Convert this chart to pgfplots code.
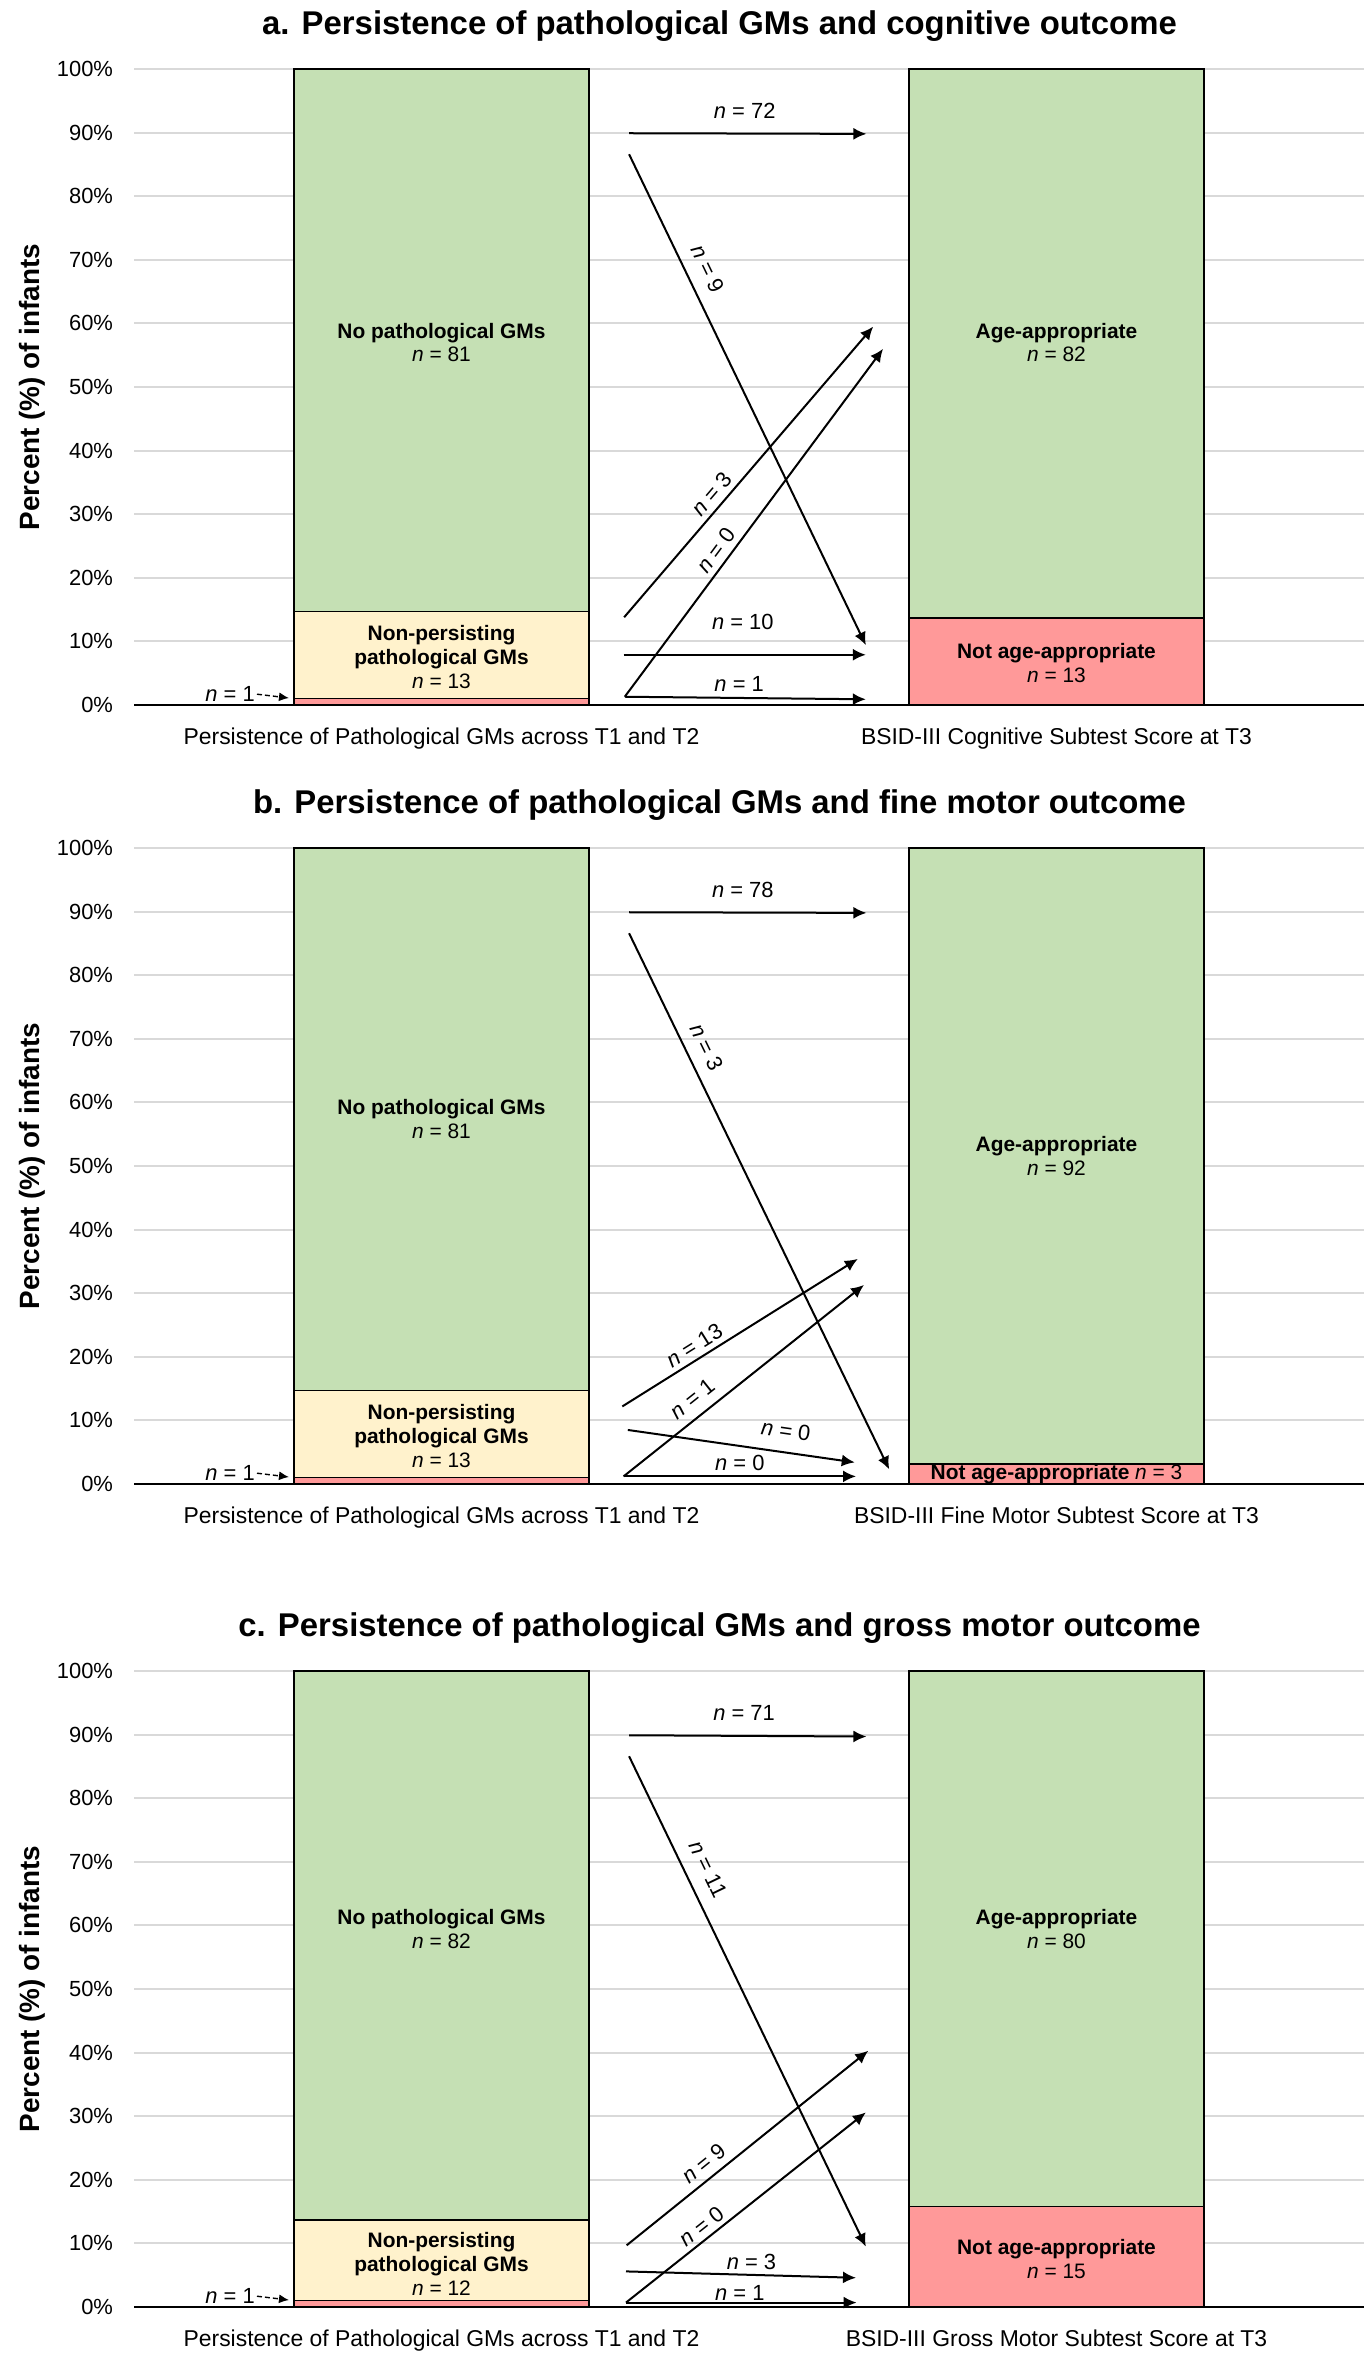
\documentclass[border=0pt]{standalone}
\usepackage{fontspec}
\setmainfont{Liberation Sans}
\usepackage{pgfplots}
\pgfplotsset{compat=1.18}
\usetikzlibrary{arrows.meta}
\definecolor{cgreen}{HTML}{C5E0B4}
\definecolor{cyellow}{HTML}{FFF2CC}
\definecolor{cred}{HTML}{FF9999}
\definecolor{cgrid}{HTML}{D9D9D9}
\pgfplotsset{
  panel/.style={
    scale only axis, width=615bp, height=318bp,
    xmin=0.5, xmax=2.5, ymin=0, ymax=100,
    axis x line=bottom, axis y line=left,
    x axis line style={-, line width=1.2bp, black},
    y axis line style={draw=none},
    ytick={0,10,...,100},
    yticklabels={0\%,10\%,20\%,30\%,40\%,50\%,60\%,70\%,80\%,90\%,100\%},
    xtick={1,2},
    major tick length=0pt,
    ymajorgrids, grid style={cgrid, line width=1bp},
    tick label style={font=\fontsize{11}{13}\selectfont},
    xticklabel style={yshift=-8bp, font=\fontsize{11.5}{13}\selectfont},
    yticklabel style={xshift=-7bp},
    clip=false,
    title style={at={(0.476,1)}, anchor=center, yshift=15.5bp, font=\fontsize{16.5}{19}\selectfont\bfseries},
  },
  seg/.style={ybar, bar width=0.48, bar shift=0pt, fill=#1, draw=black, line width=0.7bp},
  arr/.style={-{Latex[length=6.5bp,width=6bp]}, line width=1bp, black, mark=none},
  darr/.style={-{Latex[length=5bp,width=4.5bp]}, line width=0.7bp, black, mark=none, dash pattern=on 2.5bp off 1.5bp},
}
\tikzset{
  lab/.style={font=\fontsize{11}{13}\selectfont, inner sep=0pt},
  blab/.style={font=\fontsize{10.5}{12}\selectfont\bfseries, align=center, inner sep=0pt},
  ylab/.style={font=\fontsize{14}{16}\selectfont\bfseries, rotate=90},
}
\begin{document}
\begin{tikzpicture}
\useasboundingbox (0,0) rectangle (683bp,-1180.5bp);
% ---------------- panel a ----------------
\begin{axis}[panel, at={(67bp,-352.5bp)}, anchor=south west,
  title={a. Persistence of pathological GMs and cognitive outcome},
  xticklabels={Persistence of Pathological GMs across T1 and T2, BSID-III Cognitive Subtest Score at T3}]
\addplot[seg=cgreen] coordinates {(1,100) (2,100)};
\addplot[seg=cyellow] coordinates {(1,14.74)};
\addplot[seg=cred] coordinates {(1,1.05) (2,13.68)};
\node[ylab] at ([xshift=-51bp]rel axis cs:0,0.5) {Percent (\%) of infants};
\node[blab] at (axis cs:1,57) {No pathological GMs\\\mdseries\textit{n} = 81};
\node[blab] at (axis cs:1,7.6) {Non-persisting\\pathological GMs\\\mdseries\textit{n} = 13};
\node[blab] at (axis cs:2,57) {Age-appropriate\\\mdseries\textit{n} = 82};
\node[blab] at (axis cs:2,6.6) {Not age-appropriate\\\mdseries\textit{n} = 13};
\addplot[darr] coordinates {(0.70,1.7) (0.752,1.1)};
\node[lab, anchor=east] at (axis cs:0.697,1.7) {\textit{n} = 1};
\addplot[arr] coordinates {(1.305,89.9) (1.691,89.8)};
\addplot[arr] coordinates {(1.305,86.6) (1.690,9.4)};
\addplot[arr] coordinates {(1.297,13.8) (1.702,59.5)};
\addplot[arr] coordinates {(1.298,1.3) (1.718,56.0)};
\addplot[arr] coordinates {(1.296,7.9) (1.690,7.9)};
\addplot[arr] coordinates {(1.298,1.3) (1.690,0.9)};
\node[lab] at (axis cs:1.493,93.4) {\textit{n} = 72};
\node[lab, rotate=-64.2] at (axis cs:1.433,68.6) {\textit{n} = 9};
\node[lab, rotate=49.3] at (axis cs:1.439,33.2) {\textit{n} = 3};
\node[lab, rotate=53.4] at (axis cs:1.447,24.3) {\textit{n} = 0};
\node[lab] at (axis cs:1.490,13.0) {\textit{n} = 10};
\node[lab] at (axis cs:1.484,3.3) {\textit{n} = 1};
\end{axis}
% ---------------- panel b ----------------
\begin{axis}[panel, at={(67bp,-742bp)}, anchor=south west,
  title={b. Persistence of pathological GMs and fine motor outcome},
  xticklabels={Persistence of Pathological GMs across T1 and T2, BSID-III Fine Motor Subtest Score at T3}]
\addplot[seg=cgreen] coordinates {(1,100) (2,100)};
\addplot[seg=cyellow] coordinates {(1,14.74)};
\addplot[seg=cred] coordinates {(1,1.05) (2,3.16)};
\node[ylab] at ([xshift=-51bp]rel axis cs:0,0.5) {Percent (\%) of infants};
\node[blab] at (axis cs:1,57.4) {No pathological GMs\\\mdseries\textit{n} = 81};
\node[blab] at (axis cs:1,7.6) {Non-persisting\\pathological GMs\\\mdseries\textit{n} = 13};
\node[blab] at (axis cs:2,51.5) {Age-appropriate\\\mdseries\textit{n} = 92};
\node[blab] at (axis cs:2,1.6) {Not age-appropriate \mdseries\textit{n} = 3};
\addplot[darr] coordinates {(0.70,1.7) (0.752,1.1)};
\node[lab, anchor=east] at (axis cs:0.697,1.7) {\textit{n} = 1};
\addplot[arr] coordinates {(1.305,89.9) (1.691,89.8)};
\addplot[arr] coordinates {(1.305,86.6) (1.728,2.3)};
\addplot[arr] coordinates {(1.294,12.2) (1.677,35.4)};
\addplot[arr] coordinates {(1.296,1.2) (1.687,31.3)};
\addplot[arr] coordinates {(1.303,8.5) (1.672,3.4)};
\addplot[arr] coordinates {(1.296,1.2) (1.674,1.2)};
\node[lab] at (axis cs:1.490,93.4) {\textit{n} = 78};
\node[lab, rotate=-64.1] at (axis cs:1.431,68.7) {\textit{n} = 3};
\node[lab, rotate=32.1] at (axis cs:1.411,21.8) {\textit{n} = 13};
\node[lab, rotate=38.5] at (axis cs:1.408,13.4) {\textit{n} = 1};
\node[lab, rotate=-8.1] at (axis cs:1.560,8.4) {\textit{n} = 0};
\node[lab] at (axis cs:1.485,3.3) {\textit{n} = 0};
\end{axis}
% ---------------- panel c ----------------
\begin{axis}[panel, at={(67bp,-1153.5bp)}, anchor=south west,
  title={c. Persistence of pathological GMs and gross motor outcome},
  xticklabels={Persistence of Pathological GMs across T1 and T2, BSID-III Gross Motor Subtest Score at T3}]
\addplot[seg=cgreen] coordinates {(1,100) (2,100)};
\addplot[seg=cyellow] coordinates {(1,13.68)};
\addplot[seg=cred] coordinates {(1,1.05) (2,15.79)};
\node[ylab] at ([xshift=-51bp]rel axis cs:0,0.5) {Percent (\%) of infants};
\node[blab] at (axis cs:1,59.5) {No pathological GMs\\\mdseries\textit{n} = 82};
\node[blab] at (axis cs:1,6.8) {Non-persisting\\pathological GMs\\\mdseries\textit{n} = 12};
\node[blab] at (axis cs:2,59.5) {Age-appropriate\\\mdseries\textit{n} = 80};
\node[blab] at (axis cs:2,7.5) {Not age-appropriate\\\mdseries\textit{n} = 15};
\addplot[darr] coordinates {(0.70,1.7) (0.752,1.1)};
\node[lab, anchor=east] at (axis cs:0.697,1.7) {\textit{n} = 1};
\addplot[arr] coordinates {(1.305,89.9) (1.691,89.7)};
\addplot[arr] coordinates {(1.305,86.6) (1.690,9.5)};
\addplot[arr] coordinates {(1.301,9.7) (1.694,40.3)};
\addplot[arr] coordinates {(1.300,0.7) (1.690,30.6)};
\addplot[arr] coordinates {(1.300,5.6) (1.674,4.6)};
\addplot[arr] coordinates {(1.300,0.7) (1.675,0.7)};
\node[lab] at (axis cs:1.492,93.4) {\textit{n} = 71};
\node[lab, rotate=-64.2] at (axis cs:1.434,68.9) {\textit{n} = 11};
\node[lab, rotate=38.9] at (axis cs:1.426,22.6) {\textit{n} = 9};
\node[lab, rotate=38.4] at (axis cs:1.423,12.7) {\textit{n} = 0};
\node[lab] at (axis cs:1.504,7.1) {\textit{n} = 3};
\node[lab] at (axis cs:1.485,2.2) {\textit{n} = 1};
\end{axis}
\end{tikzpicture}
\end{document}
